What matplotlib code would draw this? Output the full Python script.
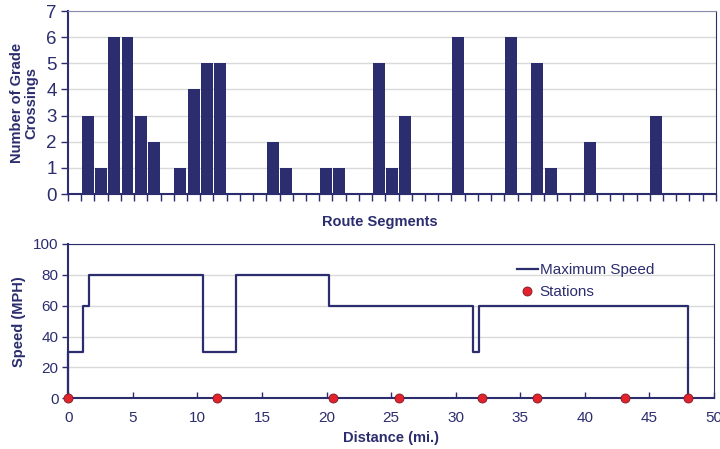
import matplotlib
matplotlib.use('Agg')
import matplotlib.pyplot as plt
import numpy as np

plt.rcParams['font.family'] = ['Liberation Sans', 'DejaVu Sans']

NAVY = '#2b2d6e'
RED = '#e3232b'
GRID = '#d9d9d9'

# grade crossings per route segment (49 segments)
crossings = [0, 3, 1, 6, 6, 3, 2, 0, 1, 4, 5, 5, 0, 0, 0, 2, 1, 0, 0, 1,
             1, 0, 0, 5, 1, 3, 0, 0, 0, 6, 0, 0, 0, 6, 0, 5, 1, 0, 0, 2,
             0, 0, 0, 0, 3, 0, 0, 0, 0]

# speed limit profile: breakpoints (mi.) and speed in force after each one
speed_miles = [0.0, 0.0, 1.1, 1.6, 10.4, 13.0, 20.2, 31.3, 31.8, 48.0]
speed_mph = [0, 30, 60, 80, 30, 80, 60, 30, 60, 0]

station_miles = [0.0, 11.5, 20.5, 25.6, 32.0, 36.3, 43.1, 48.0]

fig = plt.figure(figsize=(7.2, 4.49), dpi=100)

# --- grade crossings ---
ax1 = fig.add_axes([0.0944, 0.5679, 0.8999, 0.4076])
seg = np.arange(len(crossings))
ax1.bar(seg, crossings, width=0.9, color=NAVY, zorder=3)
ax1.set_xlim(-0.5, len(crossings) - 0.5)
ax1.set_ylim(0, 7)
ax1.set_yticks(range(0, 8))
ax1.set_xticks(np.arange(-0.5, len(crossings), 1.0))
ax1.set_xticklabels([])
ax1.yaxis.grid(True, color=GRID, lw=1, zorder=0)
ax1.tick_params(axis='y', direction='out', length=5, width=1, color=NAVY,
                labelsize=13.5, labelcolor=NAVY, pad=3)
ax1.tick_params(axis='x', direction='out', length=5, width=1, color=NAVY)
for side in ['left', 'bottom']:
    ax1.spines[side].set_color(NAVY)
    ax1.spines[side].set_linewidth(1.5)
ax1.spines['top'].set_color('#8a8cb0')
ax1.spines['right'].set_color(NAVY)
ax1.set_ylabel('Number of Grade\nCrossings', fontsize=10.5, fontweight='bold',
               color=NAVY, linespacing=1.0)
ax1.yaxis.set_label_coords(-0.046, 0.5)
ax1.set_xlabel('Route Segments', fontsize=10.5, fontweight='bold', color=NAVY)
ax1.xaxis.set_label_coords(0.481, -0.112)

# --- speed profile ---
ax2 = fig.add_axes([0.0949, 0.1129, 0.8968, 0.3437])
ax2.step(speed_miles, speed_mph, where='post', color=NAVY, lw=1.6,
         label='Maximum Speed', zorder=3, clip_on=False)
ax2.plot(station_miles, [0] * len(station_miles), 'o', color=RED,
         markersize=6.5, markeredgecolor='#7a1a2a', markeredgewidth=0.6,
         label='Stations', zorder=4, clip_on=False)
ax2.set_xlim(0, 50)
ax2.set_ylim(0, 100)
ax2.set_xticks(range(0, 51, 5))
ax2.set_yticks(range(0, 101, 20))
ax2.yaxis.grid(True, color=GRID, lw=1, zorder=0)
ax2.tick_params(axis='x', direction='in', length=4, width=1, color=NAVY,
                labelsize=11, labelcolor=NAVY, pad=9)
ax2.tick_params(axis='y', direction='out', length=4, width=1, color=NAVY,
                labelsize=11, labelcolor=NAVY, pad=3)
for side in ['left', 'bottom']:
    ax2.spines[side].set_color(NAVY)
    ax2.spines[side].set_linewidth(1.5)
ax2.spines['top'].set_color(NAVY)
ax2.spines['right'].set_color(NAVY)
ax2.set_ylabel('Speed (MPH)', fontsize=10.5, fontweight='bold', color=NAVY)
ax2.yaxis.set_label_coords(-0.066, 0.5)
ax2.set_xlabel('Distance (mi.)', fontsize=10.5, fontweight='bold', color=NAVY)
ax2.xaxis.set_label_coords(0.5, -0.212)
leg = ax2.legend(loc='upper left', bbox_to_anchor=(0.685, 0.915), frameon=False,
                 fontsize=11, handlelength=1.4, handletextpad=0.1,
                 labelspacing=0.5, borderaxespad=0)
for t in leg.get_texts():
    t.set_color(NAVY)

fig.savefig('out.png', dpi=100)
